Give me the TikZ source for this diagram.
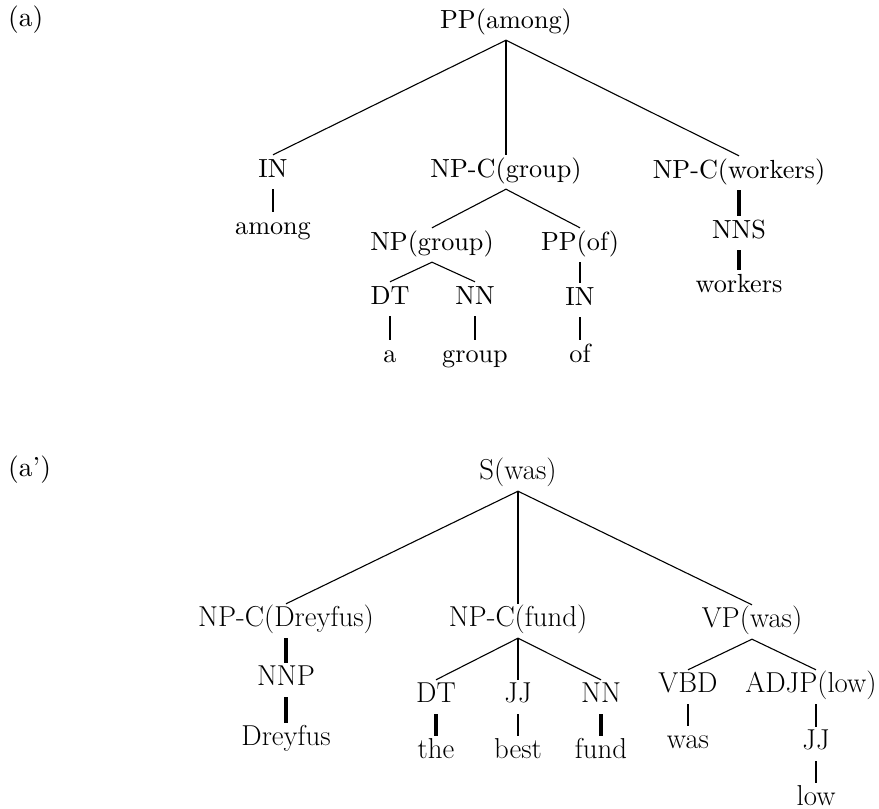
\documentclass[tikz,border=0pt]{standalone}
\usepackage{graphicx}
% upper tree: 10pt design size blown up; lower tree: large design size
\newcommand{\widelbl}[1]{\scalebox{2.62}{#1}}
\newcommand{\narrowlbl}[1]{#1}
\newcommand{\taglbl}[1]{\scalebox{2.75}{#1}}
\tikzset{
  tnode/.style={anchor=base, inner xsep=0pt, inner ysep=5pt, text height=17pt, text depth=7pt},
  upper/.style={tnode, font=\fontsize{10}{12}\selectfont},
  lower/.style={tnode, font=\fontsize{28.8}{33}\selectfont},
  tag/.style={anchor=base west, inner sep=0pt, font=\fontsize{10}{12}\selectfont},
  branch/.style={line width=1.1pt},
  stem/.style={line width=2.2pt},
  boldstem/.style={line width=3.2pt},
}
\begin{document}
\begin{tikzpicture}[x=1pt,y=-1pt]
\useasboundingbox (0,0) rectangle (879,809);

% ---- tree (a) ----
\node[tag] (taga) at (8,26) {\taglbl{(a)}};
\node[upper] (ppa)   at (506,28)  {\widelbl{PP(among)}};
\node[upper] (in1)   at (273,177) {\widelbl{IN}};
\node[upper] (npcg)  at (506,177) {\widelbl{NP-C(group)}};
\node[upper] (npcw)  at (739,178) {\widelbl{NP-C(workers)}};
\node[upper] (among) at (273,234) {\widelbl{among}};
\node[upper] (nns)   at (739,238) {\widelbl{NNS}};
\node[upper] (wrk)   at (739,292) {\widelbl{workers}};
\node[upper] (npg)   at (432,250) {\widelbl{NP(group)}};
\node[upper] (ppof)  at (580,250) {\widelbl{PP(of)}};
\node[upper] (dt1)   at (390,304) {\widelbl{DT}};
\node[upper] (nn1)   at (475,304) {\widelbl{NN}};
\node[upper] (in2)   at (580,305) {\widelbl{IN}};
\node[upper] (wa)    at (390,362) {\widelbl{a}};
\node[upper] (wgrp)  at (475,362) {\widelbl{group}};
\node[upper] (wof)   at (580,362) {\widelbl{of}};

\draw[branch] (ppa.south) -- (in1.north);
\draw[stem]   (ppa.south) -- (npcg.north);
\draw[branch] (ppa.south) -- (npcw.north);
\draw[stem]   (in1.south) -- (among.north);
\draw[branch] (npcg.south) -- (npg.north);
\draw[branch] (npcg.south) -- (ppof.north);
\draw[boldstem] (npcw.south) -- (nns.north);
\draw[boldstem] (nns.south) -- (wrk.north);
\draw[branch] (npg.south) -- (dt1.north);
\draw[branch] (npg.south) -- (nn1.north);
\draw[stem]   (ppof.south) -- (in2.north);
\draw[stem]   (dt1.south) -- (wa.north);
\draw[stem]   (nn1.south) -- (wgrp.north);
\draw[stem]   (in2.south) -- (wof.north);

% ---- tree (a') ----
\node[tag] (tagb) at (8,476) {\taglbl{(a')}};
\node[lower] (swas)  at (518,479) {\narrowlbl{S(was)}};
\node[lower] (npcd)  at (286,626) {\narrowlbl{NP-C(Dreyfus)}};
\node[lower] (npcf)  at (518,626) {\narrowlbl{NP-C(fund)}};
\node[lower] (vpw)   at (752,627) {\narrowlbl{VP(was)}};
\node[lower] (nnp)   at (286,685) {\narrowlbl{NNP}};
\node[lower] (wdr)   at (286,745) {\narrowlbl{Dreyfus}};
\node[lower] (dt2)   at (436,702) {\narrowlbl{DT}};
\node[lower] (jj1)   at (518,702) {\narrowlbl{JJ}};
\node[lower] (nn2)   at (601,702) {\narrowlbl{NN}};
\node[lower] (wthe)  at (436,758) {\narrowlbl{the}};
\node[lower] (wbest) at (518,758) {\narrowlbl{best}};
\node[lower] (wfund) at (601,758) {\narrowlbl{fund}};
\node[lower] (vbd)   at (688,692) {\narrowlbl{VBD}};
\node[lower] (adjp)  at (811,692) {\narrowlbl{ADJP(low)}};
\node[lower] (wwas)  at (688,748) {\narrowlbl{was}};
\node[lower] (jj2)   at (816,749) {\narrowlbl{JJ}};
\node[lower] (wlow)  at (816,805) {\narrowlbl{low}};

\draw[branch] (swas.south) -- (npcd.north);
\draw[stem]   (swas.south) -- (npcf.north);
\draw[branch] (swas.south) -- (vpw.north);
\draw[boldstem] (npcd.south) -- (nnp.north);
\draw[boldstem] (nnp.south) -- (wdr.north);
\draw[branch] (npcf.south) -- (dt2.north);
\draw[stem]   (npcf.south) -- (jj1.north);
\draw[branch] (npcf.south) -- (nn2.north);
\draw[boldstem] (dt2.south) -- (wthe.north);
\draw[stem]   (jj1.south) -- (wbest.north);
\draw[boldstem] (nn2.south) -- (wfund.north);
\draw[branch] (vpw.south) -- ([xshift=5pt]adjp.north);
\draw[branch] (vpw.south) -- (vbd.north);
\draw[stem]   (vbd.south) -- (wwas.north);
\draw[stem]   ([xshift=5pt]adjp.south) -- (jj2.north);
\draw[stem]   (jj2.south) -- (wlow.north);
\end{tikzpicture}
\end{document}
